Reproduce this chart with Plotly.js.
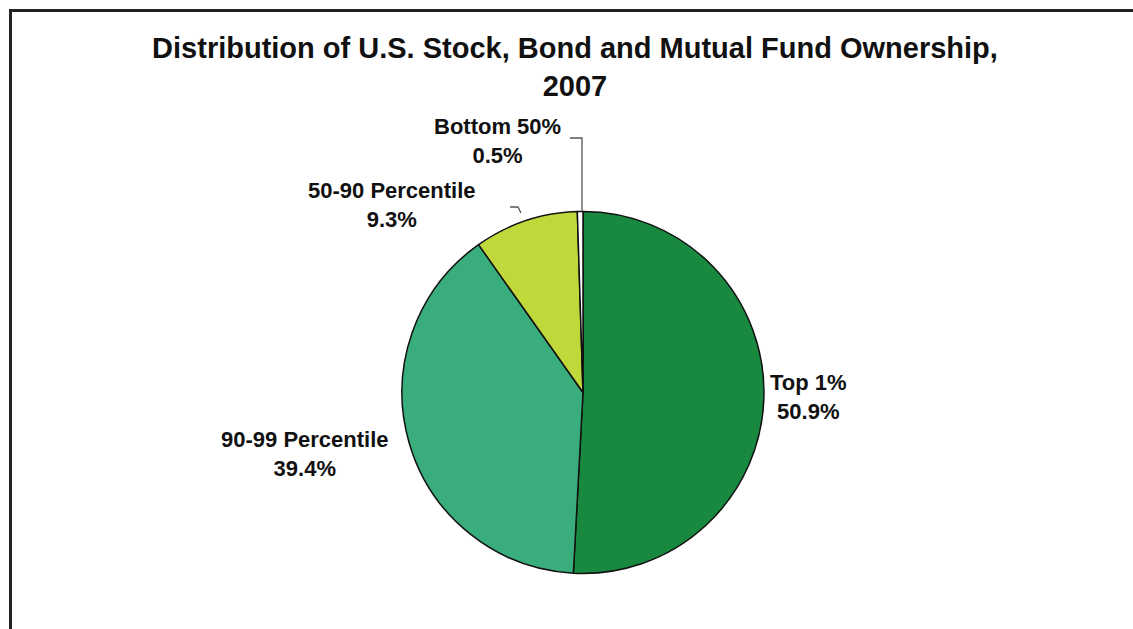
<!DOCTYPE html>
<html>
<head>
<meta charset="utf-8">
<script src="https://cdn.plot.ly/plotly-3.0.1.min.js"></script>
<style>
html,body{margin:0;padding:0;background:#fff;}
#wrap{position:relative;width:1133px;height:629px;}
#chart{position:absolute;left:0;top:0;width:1133px;height:629px;}
#frame{position:absolute;left:9px;top:9px;width:1140px;height:640px;border-top:3px solid #222;border-left:3px solid #222;pointer-events:none;}
</style>
</head>
<body>
<div id="wrap"><div id="chart"></div><div id="frame"></div></div>
<script>
const categories = ["Top 1%", "90-99 Percentile", "50-90 Percentile", "Bottom 50%"];
const shares = [50.9, 39.4, 9.3, 0.5];
const colors = ["#18893f", "#3aad7d", "#c0d83a", "#ffffff"];
const titleText = "Distribution of U.S. Stock, Bond and Mutual Fund Ownership,<br>2007";

const W = 1133, H = 629;
const px = x => x / W;
const py = y => 1 - y / H;

// label positions (pixel centres)
const labelPos = [
  [808, 397],
  [305, 454],
  [392, 205],
  [497, 141]
];

const annotations = categories.map((c, i) => ({
  x: px(labelPos[i][0]), y: py(labelPos[i][1]), xref: 'paper', yref: 'paper',
  text: '<b>' + c + '<br>' + shares[i].toFixed(1) + '%</b>',
  showarrow: false, xanchor: 'center', yanchor: 'middle', align: 'center',
  font: {family: 'Liberation Sans, Arial, sans-serif', size: 22, color: '#111'}
}));

const lineStyle = {color: '#555', width: 1.3};
const shapes = [
  {type: 'path', xref: 'paper', yref: 'paper',
   path: `M ${px(570)} ${py(138)} L ${px(582)} ${py(138)} L ${px(582)} ${py(211)}`, line: lineStyle},
  {type: 'path', xref: 'paper', yref: 'paper',
   path: `M ${px(510)} ${py(207)} L ${px(518)} ${py(207)} L ${px(521)} ${py(213)}`, line: lineStyle}
];

const data = [{
  type: 'pie',
  labels: categories,
  values: shares,
  sort: false,
  direction: 'clockwise',
  rotation: 0,
  textinfo: 'none',
  hoverinfo: 'label+percent',
  marker: {colors: colors, line: {color: '#111', width: 1.5}},
  domain: {x: [px(402), px(764)], y: [py(574), py(211)]},
  showlegend: false
}];

const layout = {
  width: W, height: H,
  margin: {l: 0, r: 0, t: 0, b: 0},
  paper_bgcolor: '#fff',
  title: {text: '<b>' + titleText + '</b>', x: 575 / W, xanchor: 'center', y: 1 - 58 / H, yanchor: 'middle', yref: 'container',
          font: {family: 'Liberation Sans, Arial, sans-serif', size: 29, color: '#111'}},
  annotations: annotations,
  shapes: shapes,
  showlegend: false
};

Plotly.newPlot('chart', data, layout, {displayModeBar: false, staticPlot: true});
</script>
</body>
</html>
